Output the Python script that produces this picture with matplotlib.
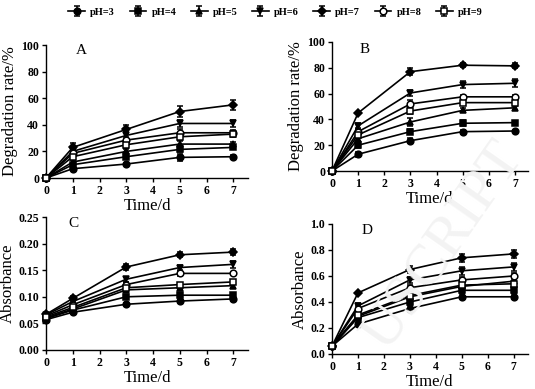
import matplotlib
matplotlib.use('Agg')
import matplotlib.pyplot as plt

plt.rcParams['font.family'] = ['Liberation Serif', 'DejaVu Serif']

days = [0, 1, 3, 5, 7]
labels = ['pH=3', 'pH=4', 'pH=5', 'pH=6', 'pH=7', 'pH=8', 'pH=9']
markers = ['o', 's', '^', 'v', 'D', 'o', 's']
filled = [True, True, True, True, True, False, False]

# A: degradation rate (%)
deg_a = [
    [0, 7, 10.5, 15.5, 16],
    [0, 10, 16, 21.5, 23],
    [0, 12, 20, 25.5, 25.5],
    [0, 20, 32, 41, 41],
    [0, 23, 36.5, 50, 55],
    [0, 18.5, 28.5, 34, 34],
    [0, 16, 25, 31, 33],
]
err_a = [
    [0, 1, 1, 2.5, 1],
    [0, 1, 1.5, 2, 1.5],
    [0, 1.5, 2, 2, 1.5],
    [0, 2, 2.5, 2.5, 2.5],
    [0, 3, 3, 4.5, 3.5],
    [0, 2, 2.5, 2.5, 2],
    [0, 2, 2.5, 2.5, 2],
]

# B: degradation rate (%)
deg_b = [
    [0, 13, 23.5, 30.5, 31],
    [0, 20, 30.5, 37, 37.5],
    [0, 25, 38, 47, 49],
    [0, 35, 60.5, 67, 68],
    [0, 45, 77, 82, 81.5],
    [0, 30.5, 52, 57.5, 57.5],
    [0, 28, 46.5, 53, 53],
]
err_b = [
    [0, 2, 2, 1.5, 1],
    [0, 2, 2, 2.5, 1.5],
    [0, 2, 3, 1.5, 1.5],
    [0, 2, 2.5, 2.5, 3],
    [0, 1, 2.5, 1.5, 2],
    [0, 2, 3, 1.5, 1.5],
    [0, 2, 2, 1.5, 1.5],
]

# C: absorbance
abs_c = [
    [0.057, 0.071, 0.086, 0.092, 0.096],
    [0.059, 0.075, 0.100, 0.103, 0.103],
    [0.060, 0.077, 0.113, 0.117, 0.121],
    [0.066, 0.091, 0.133, 0.155, 0.161],
    [0.067, 0.097, 0.156, 0.179, 0.184],
    [0.064, 0.085, 0.123, 0.144, 0.144],
    [0.062, 0.080, 0.117, 0.123, 0.128],
]
err_c = [
    [0.003, 0.002, 0.003, 0.003, 0.003],
    [0.003, 0.002, 0.003, 0.004, 0.003],
    [0.003, 0.003, 0.003, 0.003, 0.004],
    [0.003, 0.004, 0.005, 0.004, 0.006],
    [0.003, 0.005, 0.006, 0.005, 0.006],
    [0.003, 0.003, 0.004, 0.004, 0.003],
    [0.003, 0.003, 0.004, 0.003, 0.004],
]

# D: absorbance
abs_d = [
    [0.06, 0.23, 0.35, 0.44, 0.44],
    [0.06, 0.28, 0.40, 0.49, 0.49],
    [0.06, 0.29, 0.44, 0.52, 0.56],
    [0.06, 0.37, 0.57, 0.64, 0.67],
    [0.06, 0.47, 0.65, 0.74, 0.77],
    [0.06, 0.35, 0.51, 0.57, 0.60],
    [0.06, 0.30, 0.45, 0.53, 0.54],
]
err_d = [
    [0.02, 0.01, 0.02, 0.02, 0.02],
    [0.02, 0.02, 0.02, 0.02, 0.02],
    [0.02, 0.02, 0.02, 0.02, 0.03],
    [0.02, 0.02, 0.02, 0.03, 0.03],
    [0.02, 0.01, 0.03, 0.03, 0.03],
    [0.02, 0.02, 0.02, 0.02, 0.02],
    [0.02, 0.02, 0.02, 0.02, 0.02],
]

W, H = 535, 389
fig = plt.figure(figsize=(W / 100, H / 100), dpi=100)


def box(l, r, b, t):
    return [l / W, 1 - b / H, (r - l) / W, (b - t) / H]


panels = [
    ('A', box(46, 248, 178, 45), deg_a, err_a, (0, 100), range(0, 101, 20), 'Degradation rate/%', '%d', 7.55, (0.15, 0.96)),
    ('B', box(332, 528, 171, 42), deg_b, err_b, (0, 100), range(0, 101, 20), 'Degradation rate/%', '%d', 7.5, (0.14, 0.94)),
    ('C', box(46, 248, 350, 217), abs_c, err_c, (0, 0.25), [0, 0.05, 0.10, 0.15, 0.20, 0.25], 'Absorbance', '%.2f', 7.55, (0.11, 0.95)),
    ('D', box(332, 528, 354, 224), abs_d, err_d, (0, 1.0), [0, 0.2, 0.4, 0.6, 0.8, 1.0], 'Absorbance', '%.1f', 7.55, (0.15, 0.95)),
]

# faint watermark
fig.text(0.83, 0.37, 'USCRIPT', fontsize=42, color='#f3f3f3', rotation=55,
         ha='center', va='center', zorder=0)

handles = []
for name, pos, data, err, ylim, yt, ylab, fmt, xmax, lpos in panels:
    ax = fig.add_axes(pos)
    ax.patch.set_alpha(0)
    for i in range(len(labels)):
        h = ax.errorbar(days, data[i], yerr=err[i], color='black', lw=1.2,
                        marker=markers[i], ms=4.8 if markers[i] != 'D' else 4.0,
                        mfc='black' if filled[i] else 'white', mec='black', mew=1.1,
                        elinewidth=1.1, capsize=2.5, capthick=1.1,
                        label=labels[i], clip_on=False, zorder=3)
        if name == 'A':
            handles.append(h)
    ax.set_xlim(0, xmax)
    ax.set_ylim(*ylim)
    ax.set_xticks(range(0, 8))
    ax.set_yticks(list(yt))
    ax.set_yticklabels([fmt % v for v in yt])
    for s in ['top', 'right']:
        ax.spines[s].set_visible(False)
    for s in ['left', 'bottom']:
        ax.spines[s].set_linewidth(1.0)
    ax.tick_params(direction='out', length=3, width=1, labelsize=8.5, pad=2)
    for t in ax.get_xticklabels() + ax.get_yticklabels():
        t.set_fontweight('bold')
    ax.set_xlabel('Time/d', fontsize=12, labelpad=1)
    ax.set_ylabel(ylab, fontsize=12, labelpad=2)
    ax.text(lpos[0], lpos[1], name, transform=ax.transAxes,
            fontsize=11, ha='left', va='center')

fig.legend(handles=handles, labels=labels, loc='center', bbox_to_anchor=(0.515, 1 - 12 / H),
           ncol=7, frameon=False, handlelength=1.6, columnspacing=1.4,
           handletextpad=0.5, prop={'weight': 'bold', 'size': 7.5})

fig.savefig('out.png', dpi=100)
